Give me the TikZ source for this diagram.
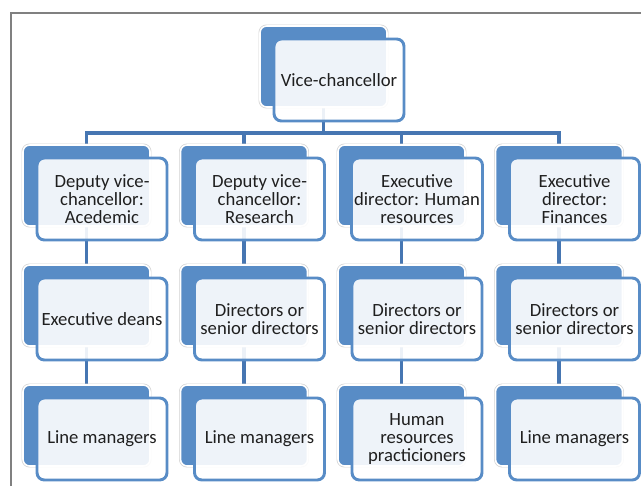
\documentclass[tikz,border=0pt]{standalone}
\usepackage{fontspec}
\setmainfont{Carlito}
\usetikzlibrary{backgrounds}

\definecolor{accentblue}{RGB}{88,140,198}
\definecolor{linkblue}{RGB}{70,118,178}
\definecolor{framegray}{RGB}{128,128,128}

\tikzset{
  backbox/.style={rectangle, rounded corners=5pt, fill=accentblue,
    draw=white, line width=1.2pt, minimum width=95.25pt,
    minimum height=60.75pt, inner sep=0pt,
    preaction={draw=black!18, line width=2.2pt}},
  frontbox/.style={rectangle, rounded corners=5.5pt, draw=accentblue,
    line width=2.2pt, fill=white, fill opacity=0.9, text opacity=1,
    minimum width=97.5pt, minimum height=61.5pt, inner sep=2pt,
    align=center, text=black!88,
    font=\fontsize{14pt}{13.6pt}\selectfont},
  link/.style={draw=linkblue, line width=2.5pt},
  framerule/.style={draw=framegray, line width=1.1pt},
}

% a unit: shadow card (name + b) and text card (name); left/top in px
\newcommand\orgunit[4]{%
  \node[backbox] (#1b) at (#2+63.5, #3+40.5) {};
  \node[frontbox] (#1) at (#2+79, #3+54) {#4};
}

\begin{document}
\begin{tikzpicture}[x=0.75pt, y=-0.75pt]
  \useasboundingbox (0,0) rectangle (641,486);

  % page frame
  \draw[framerule] (11,486) -- (11,13) -- (641,13);

  % top
  \orgunit{vc}{260}{26}{Vice-chancellor}

  % second level
  \orgunit{da}{23}{145}{Deputy vice-\\chancellor:\\Acedemic}
  \orgunit{dr}{180.5}{145}{Deputy vice-\\chancellor:\\Research}
  \orgunit{hr}{338}{145}{Executive\\director: Human\\resources}
  \orgunit{fi}{495.5}{145}{Executive\\director:\\Finances}

  % third level
  \orgunit{dam}{23}{265}{Executive deans}
  \orgunit{drm}{180.5}{265}{Directors or\\senior directors}
  \orgunit{hrm}{338}{265}{Directors or\\senior directors}
  \orgunit{fim}{495.5}{265}{Directors or\\senior directors}

  % fourth level
  \orgunit{dal}{23}{385}{Line managers}
  \orgunit{drl}{180.5}{385}{Line managers}
  \orgunit{hrl}{338}{385}{Human\\resources\\practicioners}
  \orgunit{fil}{495.5}{385}{Line managers}

  \coordinate (bus) at (0,133);

  \begin{scope}[on background layer]
    \draw[link] (vcb.center) -- (vcb.center |- bus);
    \draw[link, line join=miter] (dab.center) -- (dab.center |- bus)
      -- (fib.center |- bus) -- (fib.center);
    \draw[link] (drb.center |- bus) -- (drb.center);
    \draw[link] (hrb.center |- bus) -- (hrb.center);
    \draw[link] (dab.center) -- (damb.center) -- (dalb.center);
    \draw[link] (drb.center) -- (drmb.center) -- (drlb.center);
    \draw[link] (hrb.center) -- (hrmb.center) -- (hrlb.center);
    \draw[link] (fib.center) -- (fimb.center) -- (filb.center);
  \end{scope}
\end{tikzpicture}
\end{document}
